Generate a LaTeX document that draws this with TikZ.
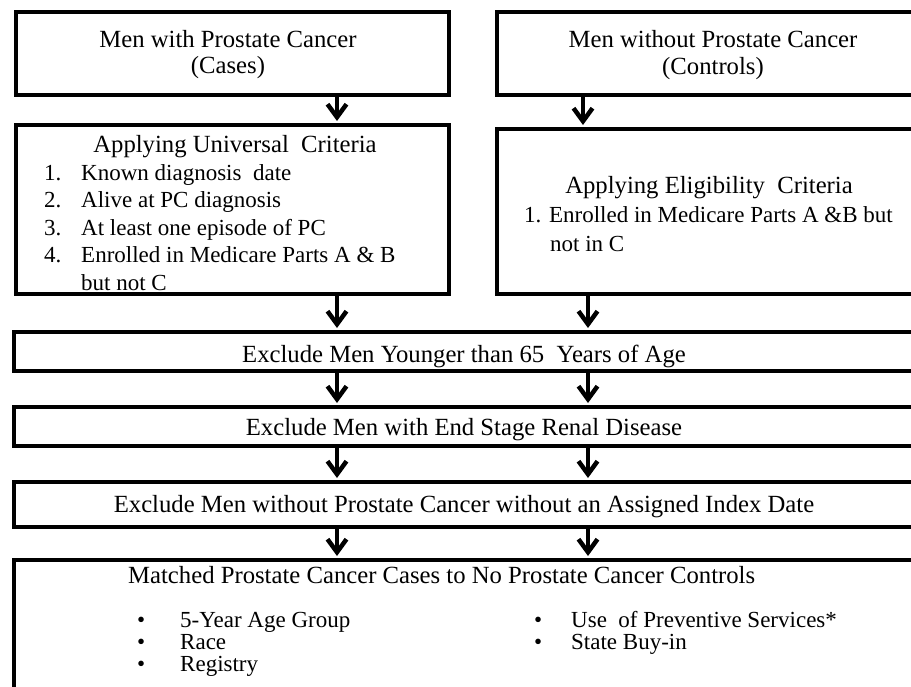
\documentclass[tikz,border=0pt]{standalone}
\usepackage{fontspec}
\setmainfont{Liberation Serif}
\usetikzlibrary{arrows.meta}
\begin{document}
\begin{tikzpicture}[x=1pt,y=-1pt,
  box/.style={draw=black, line width=4pt, rectangle, inner sep=0pt, outer sep=0pt},
  arr/.style={line width=4.5pt, -{Straight Barb[length=13pt,width=19pt]}, shorten >=4pt},
  head/.style={inner sep=0pt, anchor=base, font=\fontsize{24.7}{26}\selectfont},
  item/.style={inner sep=0pt, anchor=base west, font=\fontsize{23}{25}\selectfont},
  itemh/.style={inner sep=0pt, anchor=base west, font=\fontsize{24.7}{26}\selectfont}]
\useasboundingbox (0,0) rectangle (911,686);
\clip (0,0) rectangle (911,686);
\fill[white] (0,0) rectangle (911,686);
% boxes
\node[box, minimum width=433pt, minimum height=83pt] (tl) at (232.5,53.5) {};
\node[box, minimum width=433pt, minimum height=83pt] (tr) at (713.5,53.5) {};
\node[box, minimum width=433pt, minimum height=169pt] (ml) at (232.5,209.5) {};
\node[box, minimum width=433pt, minimum height=165pt] (mr) at (713.5,211.5) {};
\node[box, minimum width=916pt, minimum height=39pt] (e1) at (472,351.5) {};
\node[box, minimum width=916pt, minimum height=39pt] (e2) at (472,426.5) {};
\node[box, minimum width=916pt, minimum height=45pt] (e3) at (472,504.5) {};
\node[box, minimum width=916pt, minimum height=160pt] (bot) at (472,640) {};
% arrow columns
\coordinate (xl) at (337,0);
\coordinate (xt) at (583,0);
\coordinate (xr) at (588,0);
\draw[arr] (tl.south -| xl) -- (ml.north -| xl);
\draw[arr] (tr.south -| xt) -- (mr.north -| xt);
\draw[arr] (ml.south -| xl) -- (e1.north -| xl);
\draw[arr] (mr.south -| xr) -- (e1.north -| xr);
\draw[arr] (e1.south -| xl) -- (e2.north -| xl);
\draw[arr] (e1.south -| xr) -- (e2.north -| xr);
\draw[arr] (e2.south -| xl) -- (e3.north -| xl);
\draw[arr] (e2.south -| xr) -- (e3.north -| xr);
\draw[arr] (e3.south -| xl) -- (bot.north -| xl);
\draw[arr] (e3.south -| xr) -- (bot.north -| xr);
% texts
\node[head] (t1a) at (228,47) {Men with Prostate Cancer};
\node[head] (t1b) at (228,73) {(Cases)};
\node[head] (t2a) at (713,47) {Men without Prostate Cancer};
\node[head] (t2b) at (713,74) {(Controls)};
\node[head] (t3) at (235,152) {Applying Universal\ \ Criteria};
\node[item] (n1) at (44,180) {1.};
\node[item] (i1) at (81,180) {Known diagnosis\ \ date};
\node[item] (n2) at (44,207.5) {2.};
\node[item] (i2) at (81,207.5) {Alive at PC diagnosis};
\node[item] (n3) at (44,235) {3.};
\node[item] (i3) at (81,235) {At least one episode of PC};
\node[item] (n4) at (44,262.5) {4.};
\node[item] (i4) at (81,262.5) {Enrolled in Medicare Parts A \& B};
\node[item] (i4b) at (81,290) {but not C};
\node[head] (t4) at (709,193) {Applying Eligibility\ \ Criteria};
\node[item] (j1) at (524,222) {1. Enrolled in Medicare Parts A \&B but};
\node[item] (j1b) at (550,251) {not in C};
\node[head] (t5) at (464,362) {Exclude Men Younger than 65\ \ Years of Age};
\node[head] (t6) at (464,435) {Exclude Men with End Stage Renal Disease};
\node[head] (t7) at (464,512) {Exclude Men without Prostate Cancer without an Assigned Index Date};
\node[itemh] (t8) at (128,583) {Matched Prostate Cancer Cases to No Prostate Cancer Controls};
\node[item] (b1) at (137,627) {\textbullet};
\node[item] (k1) at (180,627) {5-Year Age Group};
\node[item] (b2) at (137,649) {\textbullet};
\node[item] (k2) at (180,649) {Race};
\node[item] (b3) at (137,671) {\textbullet};
\node[item] (k3) at (180,671) {Registry};
\node[item] (b4) at (534,627) {\textbullet};
\node[item] (k4) at (571,627) {Use\ \ of Preventive Services*};
\node[item] (b5) at (534,649) {\textbullet};
\node[item] (k5) at (571,649) {State Buy-in};
\end{tikzpicture}
\end{document}
